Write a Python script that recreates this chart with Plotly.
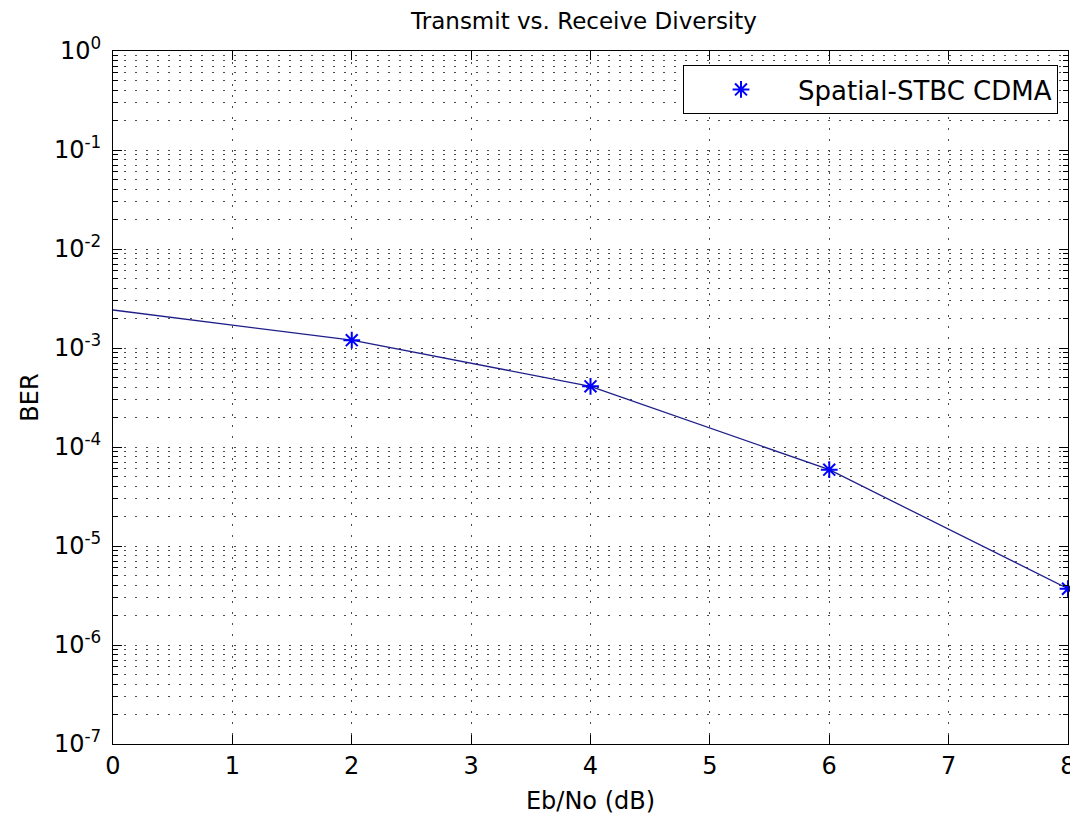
import plotly.graph_objects as go

# Data
eb_no = [0, 2, 4, 6, 8]
ber = [2.42e-3, 1.2e-3, 4.1e-4, 5.9e-5, 3.7e-6]
marker_eb_no = [2, 4, 6, 8]
marker_ber = [1.2e-3, 4.1e-4, 5.9e-5, 3.7e-6]
y_tickvals = [1e-7, 1e-6, 1e-5, 1e-4, 1e-3, 1e-2, 1e-1, 1e0]
y_ticktext = ["10<sup>-7</sup>", "10<sup>-6</sup>", "10<sup>-5</sup>", "10<sup>-4</sup>",
              "10<sup>-3</sup>", "10<sup>-2</sup>", "10<sup>-1</sup>", "10<sup>0</sup>"]
x_tickvals = [0, 1, 2, 3, 4, 5, 6, 7, 8]

FONT = "DejaVu Sans"
OFF = 8  # page body margin
W, H = 1078 - OFF, 818 - OFF
L, R, T, B = 113 - OFF, 10, 51 - OFF, 74

fig = go.Figure()
fig.add_trace(go.Scatter(x=eb_no, y=ber, mode="lines",
                         line=dict(color="#1e1e8a", width=1.3),
                         showlegend=False, hoverinfo="skip", cliponaxis=False))
fig.add_trace(go.Scatter(x=marker_eb_no, y=marker_ber, mode="markers",
                         name="Spatial-STBC CDMA", cliponaxis=False,
                         marker=dict(symbol="asterisk-open", size=14,
                                     line=dict(color="#0000ff", width=2),
                                     color="#0000ff")))

grid = dict(gridcolor="#4a4a4a", griddash="2px,9px", gridwidth=1)

fig.update_layout(
    width=W, height=H,
    margin=dict(l=L, r=R, t=T, b=B, autoexpand=False),
    paper_bgcolor="white", plot_bgcolor="white",
    font=dict(family=FONT, size=25, color="black"),
    title=dict(text="Transmit vs. Receive Diversity", x=(584 - OFF) / W, xref="container",
               xanchor="center", y=1.0, yref="container", yanchor="top",
               pad=dict(t=5),
               font=dict(family=FONT, size=23, color="black")),
    xaxis=dict(range=[0, 8], tickmode="array", tickvals=x_tickvals,
               ticks="inside", ticklen=9, tickcolor="black", showline=True,
               linecolor="black", linewidth=1, mirror="ticks", zeroline=False,
               showgrid=True, **grid,
               tickfont=dict(family=FONT, size=24),
               title=dict(text="Eb/No (dB)", standoff=13,
                          font=dict(family=FONT, size=24))),
    yaxis=dict(type="log", range=[-7, 0], tickmode="array", tickvals=y_tickvals,
               ticktext=y_ticktext, ticks="inside", ticklen=9, tickcolor="black",
               showline=True, linecolor="black", linewidth=1, mirror="ticks",
               zeroline=False, showgrid=True, **grid,
               ticklabelstandoff=6,
               tickfont=dict(family=FONT, size=24),
               minor=dict(dtick="D1", ticks="inside", ticklen=5, tickcolor="black",
                          showgrid=True, gridcolor="#4a4a4a", griddash="2px,9px",
                          gridwidth=1),
               title=dict(text="BER", standoff=8,
                          font=dict(family=FONT, size=24))),
    legend=dict(x=(1058 - OFF) / W, xref="container", xanchor="right",
                y=1 - (65 - OFF) / H, yref="container", yanchor="top",
                bgcolor="white", bordercolor="black", borderwidth=1,
                font=dict(family=FONT, size=26), itemwidth=104),
)

fig.write_html("out.html")
